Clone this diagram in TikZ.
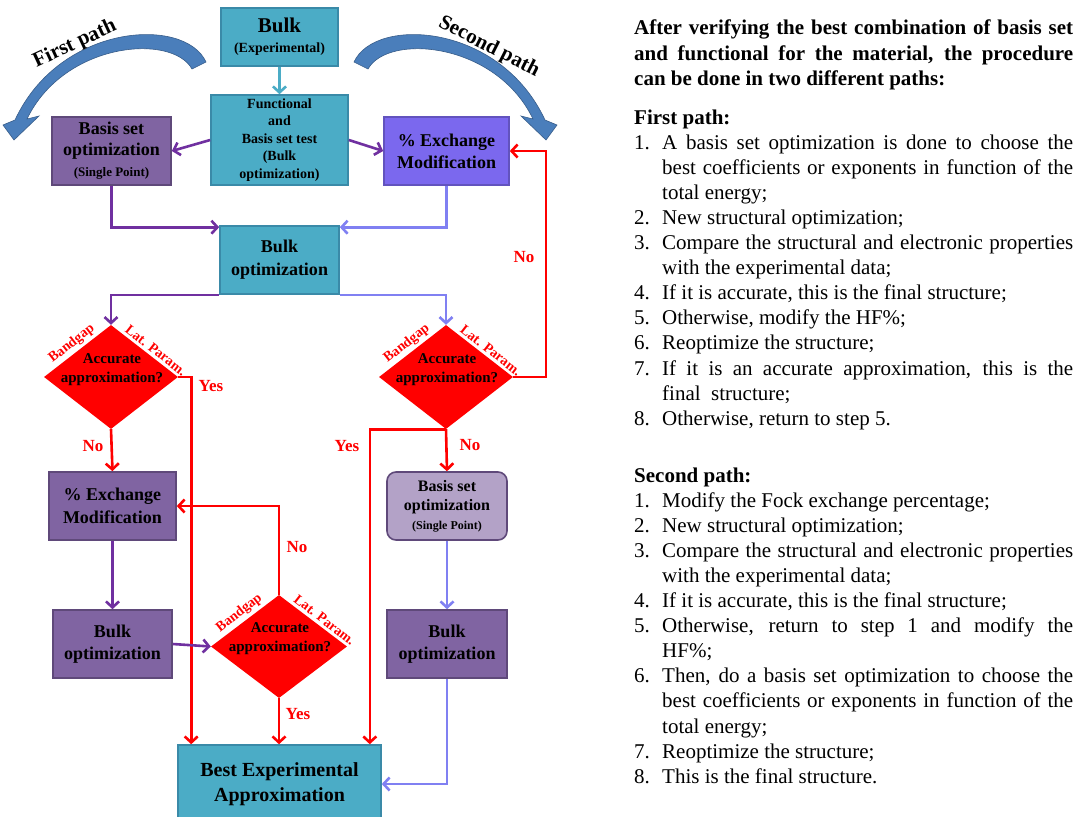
\documentclass[tikz,border=0pt]{standalone}
\usepackage{fontspec}
\setmainfont{Liberation Serif}
\usetikzlibrary{arrows.meta,shapes.geometric,calc}
\definecolor{teal1}{HTML}{4BACC6}
\definecolor{tealb}{HTML}{3A8AA8}
\definecolor{purp}{HTML}{8064A2}
\definecolor{purpb}{HTML}{5F497A}
\definecolor{slate}{HTML}{7B68EE}
\definecolor{lpurp}{HTML}{B3A2C7}
\definecolor{dline}{HTML}{7030A0}
\definecolor{lline}{HTML}{8080F2}
\definecolor{arrb}{HTML}{4A7EBB}
\definecolor{arrbd}{HTML}{385D8A}
\newcommand\itm[2]{\hangindent=28pt\hangafter=1\noindent\makebox[28pt][l]{#1}#2\par}
\newcommand\fz[2]{\fontsize{#1}{#2}\selectfont}
\begin{document}
\begin{tikzpicture}[x=1pt,y=-1pt,
  box/.style={draw, line width=1.6pt, inner sep=0pt, align=center},
  tbox/.style={box, fill=teal1, draw=tealb},
  pbox/.style={box, fill=purp, draw=purpb},
  sbox/.style={box, fill=slate, draw=slate!80!black},
  rbox/.style={box, fill=lpurp, draw=purpb, rounded corners=9pt},
  dia/.style={diamond, fill=red, draw=none, inner sep=0pt, minimum width=134pt, minimum height=104pt},
  dtxt/.style={font=\bfseries\fz{15}{19}, align=center, inner sep=0pt},
  dlbl/.style={font=\bfseries\fz{14}{16}, text=red, inner sep=2.5pt, anchor=south},
  lbl/.style={font=\bfseries\fz{17}{19}, text=red, inner sep=0pt},
  con/.style={line width=2.6pt, -{Straight Barb[length=6pt,width=13pt]}},
  tarr/.style={con, draw=teal1},
  darr/.style={con, draw=dline},
  larr/.style={con, draw=lline},
  rarr/.style={con, draw=red},
  cband/.style={fill=arrb, draw=arrbd, line width=0.6pt},
  ptxt/.style={font=\bfseries\fz{21}{22}, inner sep=0pt}
]
\useasboundingbox (0,0) rectangle (1078,816);
\fill[white] (0,0) rectangle (1078,816);

% curved arrows
\path[cband] (206,62) .. controls (185,16) and (60,23) .. (15,120) -- (3,125) -- (14,140) -- (39,116) -- (27,119)
  .. controls (64,42) and (172,33) .. (192,69) -- cycle;
\path[cband] (354,62) .. controls (375,16) and (500,23) .. (545,120) -- (557,125) -- (546,140) -- (521,116) -- (533,119)
  .. controls (496,42) and (388,33) .. (368,69) -- cycle;
\node[ptxt, rotate=25] (fp) at (75,44) {First path};
\node[ptxt, rotate=-27] (sp) at (489,47) {Second path};

% boxes
\node[tbox, minimum width=117pt, minimum height=58pt, font=\bfseries\fz{14}{20}] (bulk) at (279.5,37)
  {{\fz{21}{22}Bulk}\\(Experimental)};
\node[tbox, minimum width=137pt, minimum height=90pt, font=\bfseries\fz{14}{17.5}] (func) at (279.5,140)
  {Functional\\and\\Basis set test\\(Bulk\\optimization)};
\node[pbox, minimum width=119pt, minimum height=68pt, font=\bfseries\fz{18}{21}] (lbasis) at (111.5,151)
  {Basis set\\optimization\\{\fz{13}{15}(Single Point)}};
\node[sbox, minimum width=125pt, minimum height=68pt, font=\bfseries\fz{18}{22}] (rexch) at (446.5,151)
  {\% Exchange\\Modification};
\node[tbox, minimum width=119pt, minimum height=68pt, font=\bfseries\fz{18}{23}] (bopt) at (279.5,260)
  {Bulk\\optimization};
\node[dia] (ldia) at (111,377) {};
\node[dtxt] (ldiat) at (112,370) {Accurate\\approximation?};
\node[dia] (rdia) at (446,377) {};
\node[dtxt] (rdiat) at (447,370) {Accurate\\approximation?};
\node[pbox, minimum width=127pt, minimum height=68pt, font=\bfseries\fz{18}{23}] (lexch) at (112.5,506)
  {\% Exchange\\Modification};
\node[pbox, minimum width=119pt, minimum height=68pt, font=\bfseries\fz{18}{22}] (lbopt) at (112.5,644)
  {Bulk\\optimization};
\node[dia, minimum width=136pt, minimum height=103pt] (mdia) at (279,646.5) {};
\node[dtxt] (mdiat) at (280,639) {Accurate\\approximation?};
\node[rbox, minimum width=120pt, minimum height=68pt, font=\bfseries\fz{16}{19}] (rbasis) at (447,506)
  {Basis set\\optimization\\{\fz{12}{16}(Single Point)}};
\node[pbox, minimum width=120pt, minimum height=68pt, font=\bfseries\fz{18}{22}] (rbopt) at (447,644)
  {Bulk\\optimization};
\node[tbox, minimum width=203pt, minimum height=78pt, font=\bfseries\fz{20}{25}] (best) at (279.5,784)
  {Best Experimental\\Approximation};

% diamond side labels
\foreach \d in {ldia,rdia,mdia}{
  \node[dlbl, rotate=38] (\d-bg) at ($(\d.north)!0.5!(\d.west)$) {Bandgap};
  \node[dlbl, rotate=-38] (\d-lp) at ($(\d.north)!0.6!(\d.east)$) {Lat. Param.};
}

% connectors
\draw[tarr] (bulk.south) -- (func.north);
\draw[darr] (func.west) -- (lbasis.east);
\draw[darr] (func.east) -- (rexch.west);
\draw[darr] (lbasis.south) |- ([yshift=-2pt]bopt.north west);
\draw[larr] (rexch.south) |- ([yshift=-2pt]bopt.north east);
\draw[darr] (bopt.south west) -| (ldia.north);
\draw[larr] (bopt.south east) -| (rdia.north);
\draw[rarr] (ldia.east) -| ([xshift=14pt]best.north west);
\draw[rarr] (ldia.south) -- (lexch.north);
\draw[darr] (lexch.south) -- (lbopt.north);
\draw[darr] (lbopt.east) -- (mdia.west);
\draw[rarr] (mdia.north) |- (lexch.east);
\draw[rarr] (mdia.south) -- (mdia.south |- best.north);
\coordinate (loop) at (546,151);
\draw[rarr] (rdia.east) -| (loop) -- (rexch.east);
\draw[rarr] (rdia.south) -| ([xshift=-12pt]best.north east);
\draw[rarr] (rdia.south) -- (rbasis.north);
\draw[larr] (rbasis.south) -- (rbopt.north);
\draw[larr] (rbopt.south) |- (best.east);

% yes / no labels
\node[lbl] (y1) at (211,386) {Yes};
\node[lbl] (n1) at (93,446) {No};
\node[lbl] (n2) at (524,257) {No};
\node[lbl] (y2) at (347,446) {Yes};
\node[lbl] (n3) at (470,445) {No};
\node[lbl] (n4) at (297,547) {No};
\node[lbl] (y3) at (298,714) {Yes};

% right text
\node[anchor=base west, inner sep=0pt] (hdr) at (634,35) {\vtop{\hsize=439pt\parindent=0pt\tolerance=10000
  \fz{21}{25.5}\bfseries After verifying the best combination of basis set\linebreak
  and functional for the material, the procedure\linebreak
  can be done in two different paths:\par}};
\node[anchor=base west, inner sep=0pt] (p1) at (634,124) {\vtop{\hsize=439pt\parindent=0pt\tolerance=10000
  \fz{21}{25.1}{\bfseries First path:}\par
  \itm{1.}{A basis set optimization is done to choose the\linebreak best coefficients or exponents in function of the\linebreak total energy;}
  \itm{2.}{New structural optimization;}
  \itm{3.}{Compare the structural and electronic properties\linebreak with the experimental data;}
  \itm{4.}{If it is accurate, this is the final structure;}
  \itm{5.}{Otherwise, modify the HF\%;}
  \itm{6.}{Reoptimize the structure;}
  \itm{7.}{If it is an accurate approximation, this is the\linebreak final\ \ structure;}
  \itm{8.}{Otherwise, return to step 5.}}};
\node[anchor=base west, inner sep=0pt] (p2) at (634,482) {\vtop{\hsize=439pt\parindent=0pt\tolerance=10000
  \fz{21}{25.1}{\bfseries Second path:}\par
  \itm{1.}{Modify the Fock exchange percentage;}
  \itm{2.}{New structural optimization;}
  \itm{3.}{Compare the structural and electronic properties\linebreak with the experimental data;}
  \itm{4.}{If it is accurate, this is the final structure;}
  \itm{5.}{Otherwise, return to step 1 and modify the\linebreak HF\%;}
  \itm{6.}{Then, do a basis set optimization to choose the\linebreak best coefficients or exponents in function of the\linebreak total energy;}
  \itm{7.}{Reoptimize the structure;}
  \itm{8.}{This is the final structure.}}};
\end{tikzpicture}
\end{document}
